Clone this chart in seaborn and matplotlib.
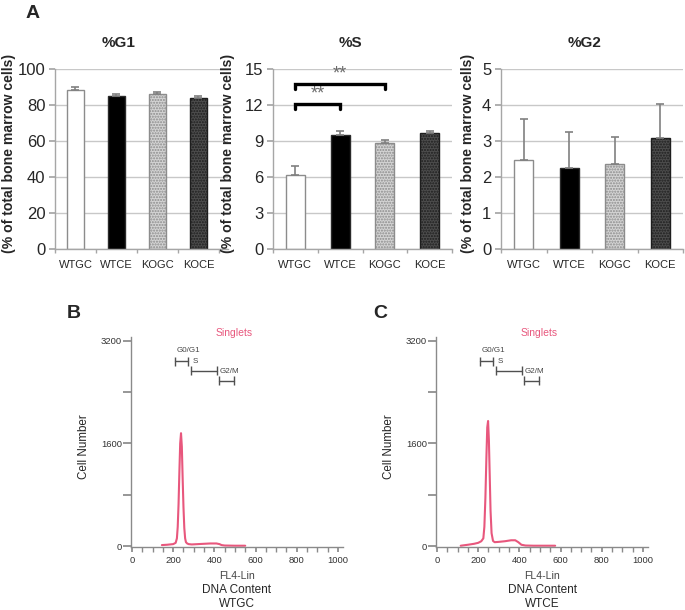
import numpy as np
import seaborn as sns
import matplotlib.pyplot as plt

sns.set_theme(style="white")
plt.rcParams["font.family"] = ["Liberation Sans", "DejaVu Sans"]

# bar chart data (panel A)
groups = ["WTGC", "WTCE", "KOGC", "KOCE"]
g1_mean = [88.5, 85.0, 86.0, 84.0]
g1_err = [1.5, 1.2, 1.3, 0.8]
s_mean = [6.2, 9.5, 8.85, 9.65]
s_err = [0.7, 0.35, 0.25, 0.15]
g2_mean = [2.47, 2.24, 2.35, 3.09]
g2_err = [1.14, 1.02, 0.77, 0.94]
s_sig = [(0, 1, 12.1), (0, 2, 13.75)]

# DNA content histograms (panels B, C)
wtgc_x = [145, 170, 200, 212, 218, 222, 226, 230, 234, 238, 242, 246, 250, 254, 258,
          262, 268, 275, 290, 320, 350, 380, 410, 425, 435, 450, 500, 550]
wtgc_y = [15, 20, 30, 50, 120, 300, 650, 1150, 1600, 1760, 1550, 1050, 600, 280, 120,
          60, 40, 30, 25, 30, 35, 40, 40, 30, 15, 8, 5, 5]
wtce_x = [115, 150, 180, 200, 215, 225, 230, 235, 240, 244, 248, 252, 256, 260, 265,
          272, 280, 300, 330, 360, 380, 395, 410, 430, 470, 520, 574]
wtce_y = [5, 20, 35, 50, 75, 120, 300, 750, 1400, 1850, 1950, 1650, 1100, 550, 200,
          80, 60, 65, 75, 90, 90, 60, 20, 8, 5, 5, 5]

# gates: label, start, end, bracket level, label x, label y
gates = [("G0/G1", 210, 272, 2880, 218, 3045),
         ("S", 285, 411, 2730, 295, 2880),
         ("G2/M", 421, 497, 2580, 428, 2720)]

bar_faces = ["white", "black", "#d4d4d4", "#4d4d4d"]
bar_edges = ["#8c8c8c", "#2a2a2a", "#8c8c8c", "#1e1e1e"]
bar_hatch = [None, None, "......", "......"]
grey = "#a6a6a6"
pink = "#e8577d"

W, H = 685, 610
fig = plt.figure(figsize=(6.85, 6.1), dpi=100)


def px_rect(x0, y0, x1, y1):
    return [x0 / W, 1 - y1 / H, (x1 - x0) / W, (y1 - y0) / H]


def bar_panel(rect, means, errs, ymax, step, xmax, title, tx, lx):
    ax = fig.add_axes(rect)
    sns.barplot(x=groups, y=means, hue=groups, palette=bar_faces, legend=False,
                width=0.42, saturation=1, ax=ax, zorder=2)
    for p, ec, h in zip(ax.patches, bar_edges, bar_hatch):
        p.set_edgecolor(ec)
        p.set_linewidth(1.0)
        if h:
            p.set_hatch(h)
    ax.errorbar(range(len(groups)), means, yerr=[np.zeros(len(errs)), errs],
                fmt="none", ecolor="#808080", elinewidth=1.2, capsize=3, capthick=1.2,
                zorder=3)
    ax.set_ylim(0, ymax)
    ax.set_xlim(-0.5, xmax)
    ax.set_yticks(np.arange(0, ymax + step / 2, step))
    ax.yaxis.grid(True, color="#c8c8c8", lw=1)
    ax.set_axisbelow(True)
    for s in ["top", "right"]:
        ax.spines[s].set_visible(False)
    for s in ["left", "bottom"]:
        ax.spines[s].set_color(grey)
        ax.spines[s].set_linewidth(1)
    ax.set_xticks([-0.5, 0.5, 1.5, 2.5, 3.5], minor=True)
    ax.tick_params(axis="y", left=True, length=4, color=grey, labelsize=12, pad=3)
    ax.tick_params(axis="x", which="major", bottom=True, length=0, labelsize=8, pad=8)
    ax.tick_params(axis="x", which="minor", bottom=True, length=3, color=grey)
    ax.set_xlabel("")
    ax.set_ylabel("")
    fig.text(tx / W, 1 - 43 / H, title, ha="center", va="center",
             fontsize=11, fontweight="bold")
    fig.text(lx / W, 1 - 153 / H, "(% of total bone marrow cells)", rotation=90,
             ha="center", va="center", fontsize=10.1, fontweight="bold")
    return ax


bar_panel(px_rect(55, 69, 228, 249), g1_mean, g1_err, 100, 20, 3.72, "%G1", 119, 9)
ax_s = bar_panel(px_rect(273, 69, 452, 249), s_mean, s_err, 15, 3, 3.5, "%S", 350, 228)
bar_panel(px_rect(501, 69, 683, 249), g2_mean, g2_err, 5, 1, 3.5, "%G2", 585, 468)

for a, b, lev in s_sig:
    ax_s.plot([a, a, b, b], [lev - 0.45, lev, lev, lev - 0.45], color="black",
              lw=2.4, solid_joinstyle="miter", zorder=4)
    ax_s.text((a + b) / 2, lev + 0.1, "**", ha="center", va="bottom",
              fontsize=13, color="#6a6a6a")


def flow_panel(x0, x1, xs, ys, sample):
    ax = fig.add_axes(px_rect(x0, 337, x1, 547))
    sns.lineplot(x=xs, y=ys, color=pink, lw=1.5, ax=ax)
    ax.set_xlim(-5, 1025)
    ax.set_ylim(-15, 3260)
    for s in ["top", "right"]:
        ax.spines[s].set_visible(False)
    for s in ["left", "bottom"]:
        ax.spines[s].set_color("#8a8a8a")
        ax.spines[s].set_linewidth(1)
    ax.set_yticks([0, 800, 1600, 2400, 3200])
    ax.set_yticklabels(["0", "", "1600", "", "3200"])
    ax.set_xticks(range(0, 1001, 200))
    ax.set_xticks(range(0, 1001, 50), minor=True)
    ax.tick_params(axis="y", left=True, length=6, color="#8a8a8a", labelsize=6.8,
                   labelcolor="#333333", pad=0.5)
    ax.tick_params(axis="x", which="both", bottom=True, length=3.5, color="#8a8a8a",
                   labelsize=6.8, labelcolor="#333333", pad=3)
    ax.set_xlabel("")
    ax.set_ylabel("")
    for lab, a, b, lev, tx, ty in gates:
        ax.plot([a, b], [lev, lev], color="#505050", lw=1)
        ax.vlines([a, b], lev - 70, lev + 70, color="#505050", lw=1)
        ax.text(tx, ty, lab, fontsize=5.8, color="#444444", ha="left", va="center")
    ax.text(495, 3330, "Singlets", color=pink, fontsize=7.5, ha="center",
            va="center", clip_on=False)
    cx = (x0 + x1) / 2 / W
    fig.text(cx, 1 - 576 / H, "FL4-Lin", ha="center", va="center",
             fontsize=7.6, color="#444444")
    fig.text(cx, 1 - 590 / H, "DNA Content", ha="center", va="center", fontsize=8.5)
    fig.text(cx, 1 - 604 / H, sample, ha="center", va="center", fontsize=8.5)
    fig.text((x0 - 47) / W, 1 - 447 / H, "Cell Number", rotation=90, ha="center",
             va="center", fontsize=8.4)
    return ax


flow_panel(131, 343, wtgc_x, wtgc_y, "WTGC")
flow_panel(436, 648, wtce_x, wtce_y, "WTCE")

for lab, x, y in [("A", 33, 14), ("B", 74, 314), ("C", 380, 314)]:
    fig.text(x / W, 1 - y / H, lab, ha="center", va="center", fontsize=14,
             fontweight="bold")

plt.savefig("out.png", dpi=100)
